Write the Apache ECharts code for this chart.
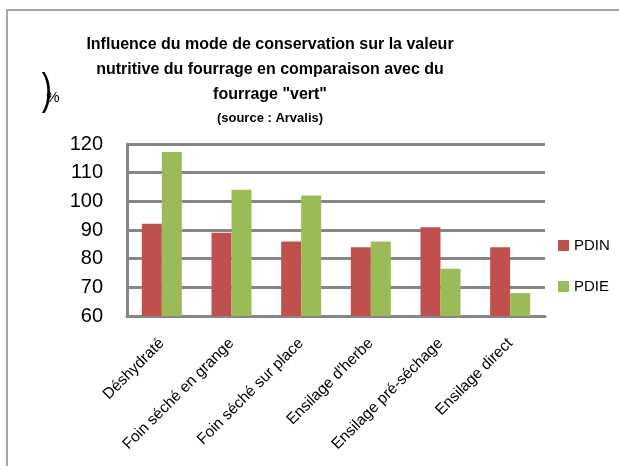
<!DOCTYPE html>
<html><head><meta charset="utf-8">
<script src="https://cdn.jsdelivr.net/npm/echarts@6/dist/echarts.min.js"></script>
<style>html,body{margin:0;padding:0;background:#fff}#c{width:619px;height:466px}</style>
</head><body><div id="c"></div>
<script>
const categories = ["Déshydraté", "Foin séché en grange", "Foin séché sur place", "Ensilage d'herbe", "Ensilage pré-séchage", "Ensilage direct"];
const pdin = [92.2, 89, 86, 84, 91, 84];
const pdie = [117.2, 104, 102, 86, 76.5, 68];
const yTicks = { min: 60, max: 120, interval: 10 };
const titleLines = ["Influence du mode de conservation sur la valeur", "nutritive du fourrage en comparaison avec du", "fourrage \"vert\""];
const sourceText = "(source : Arvalis)";

const F = "'Liberation Sans', Arial, sans-serif";
const chart = echarts.init(document.getElementById('c'), null, {renderer: 'canvas'});
const graphics = [
  {type: 'rect', shape: {x: 7, y: 10, width: 640, height: 480}, style: {fill: 'none', stroke: '#a6a6a6', lineWidth: 2}, z: 0},
  {type: 'text', x: 47, y: 92, scaleX: 0.7, style: {text: ')', fontSize: 44, fontFamily: F, fill: '#000', textAlign: 'center', textVerticalAlign: 'middle'}},
  {type: 'text', x: 53, y: 98, style: {text: '%', fontSize: 15, fontFamily: F, fill: '#000', textAlign: 'center', textVerticalAlign: 'middle'}}
];
titleLines.forEach((t, i) => graphics.push({type: 'text', x: 270, y: 45 + i * 25, style: {text: t, fontSize: 16, fontWeight: 'bold', fontFamily: F, fill: '#000', textAlign: 'center', textVerticalAlign: 'middle'}}));
graphics.push({type: 'text', x: 270, y: 118, style: {text: sourceText, fontSize: 13, fontWeight: 'bold', fontFamily: F, fill: '#000', textAlign: 'center', textVerticalAlign: 'middle'}});

chart.setOption({
  animation: false,
  backgroundColor: '#fff',
  graphic: graphics,
  grid: {left: 127, right: 74, top: 144, bottom: 150},
  legend: {
    orient: 'vertical', left: 553, top: 233, itemGap: 26, itemWidth: 11, itemHeight: 11, icon: 'rect',
    textStyle: {fontSize: 15, fontFamily: F, color: '#000'},
    data: ['PDIN', 'PDIE']
  },
  xAxis: {
    type: 'category', data: categories,
    axisLine: {lineStyle: {color: '#868686', width: 3}},
    axisTick: {show: false},
    axisLabel: {rotate: 45, fontSize: 15.5, fontFamily: F, color: '#000', margin: 25, interval: 0}
  },
  yAxis: {
    type: 'value', min: yTicks.min, max: yTicks.max, interval: yTicks.interval,
    axisLine: {show: true, lineStyle: {color: '#868686', width: 3}},
    axisTick: {show: false},
    splitLine: {lineStyle: {color: '#868686', width: 3}},
    axisLabel: {fontSize: 20, fontFamily: F, color: '#000', margin: 24}
  },
  series: [
    {name: 'PDIN', type: 'bar', data: pdin, itemStyle: {color: '#C0504D'}, barWidth: 20, barGap: '0%', barCategoryGap: '43%'},
    {name: 'PDIE', type: 'bar', data: pdie, itemStyle: {color: '#9BBB59'}, barWidth: 20, barGap: '0%'}
  ]
});
</script></body></html>
